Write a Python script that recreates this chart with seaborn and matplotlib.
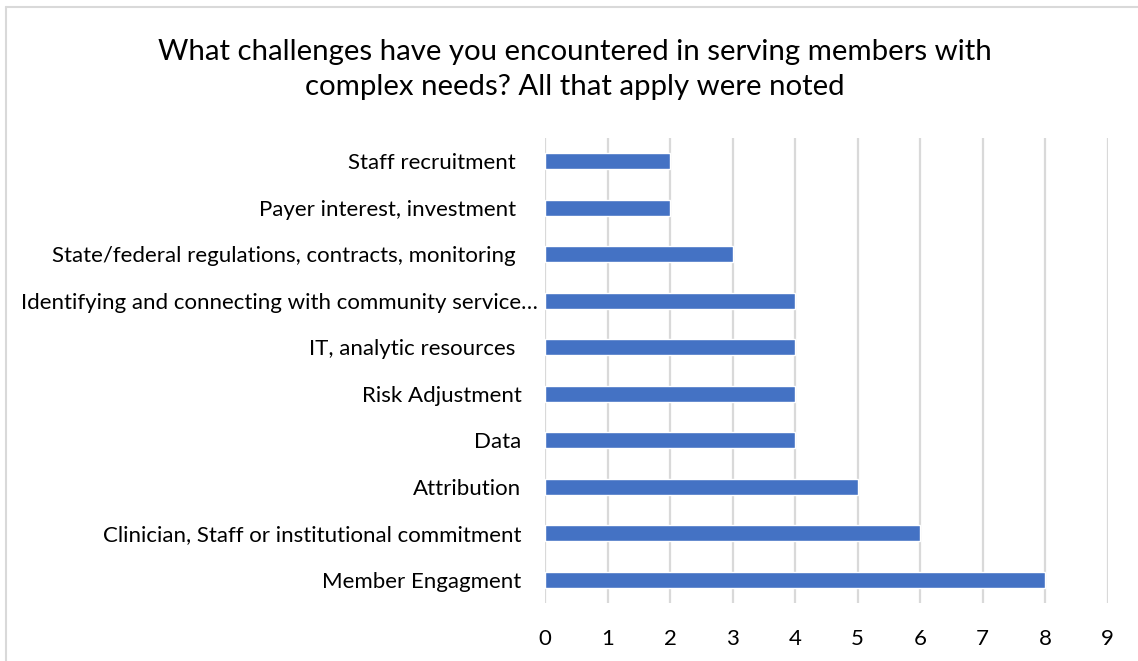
import matplotlib
matplotlib.use("Agg")
import matplotlib.pyplot as plt
from matplotlib.lines import Line2D
from matplotlib.transforms import offset_copy
import seaborn as sns
import pandas as pd

# Survey responses: challenges in serving members with complex needs
challenges = [
    "Staff recruitment ",
    "Payer interest, investment ",
    "State/federal regulations, contracts, monitoring ",
    "Identifying and connecting with community service…",
    "IT, analytic resources ",
    "Risk Adjustment",
    "Data",
    "Attribution",
    "Clinician, Staff or institutional commitment",
    "Member Engagment",
]
counts = [2, 2, 3, 4, 4, 4, 4, 5, 6, 8]
x_ticks = list(range(0, 10))

title = ("What challenges have you encountered in serving members with\n"
         "complex needs? All that apply were noted")

df = pd.DataFrame({"challenge": challenges, "count": counts})

sns.set_theme(style="white")
plt.rcParams["font.family"] = ["Lato", "DejaVu Sans"]

fig = plt.figure(figsize=(11.38, 6.61), dpi=100)
ax = fig.add_axes([545 / 1138, 1 - 603 / 661, (1107.5 - 545) / 1138, (603 - 138) / 661])

sns.barplot(data=df, x="count", y="challenge", orient="h",
            color="#4472C4", saturation=1, width=0.35, ax=ax, zorder=3)

ax.set_xlim(0, 9)
ax.set_xticks(x_ticks)
ax.set_xticklabels([str(t) for t in x_ticks])
ax.grid(axis="x", color="#D9D9D9", linewidth=1.6, zorder=0)
ax.grid(axis="y", visible=False)
for s in ax.spines.values():
    s.set_visible(False)
ax.set_xlabel("")
ax.set_ylabel("")
ax.tick_params(axis="x", length=0, pad=19, labelsize=16, labelcolor="#000000")
ax.tick_params(axis="y", length=0, pad=17, labelsize=16, labelcolor="#000000")

# The truncated label sits closer to the axis
for lbl in ax.get_yticklabels():
    if lbl.get_text().endswith("…"):
        lbl.set_transform(offset_copy(lbl.get_transform(), fig=fig, x=16, y=0, units="dots"))

fig.text(575 / 1138, 1 - 69.5 / 661, title, ha="center", va="center",
         fontsize=21.2, color="#000000", linespacing=1.45)

# Light frame around the chart area
frame_kw = dict(color="#D9D9D9", linewidth=1.5, transform=fig.transFigure)
fig.add_artist(Line2D([6 / 1138, 1.0], [1 - 7 / 661, 1 - 7 / 661], **frame_kw))
fig.add_artist(Line2D([6 / 1138, 6 / 1138], [0.0, 1 - 7 / 661], **frame_kw))

fig.savefig("out.png", dpi=100, facecolor="white")
